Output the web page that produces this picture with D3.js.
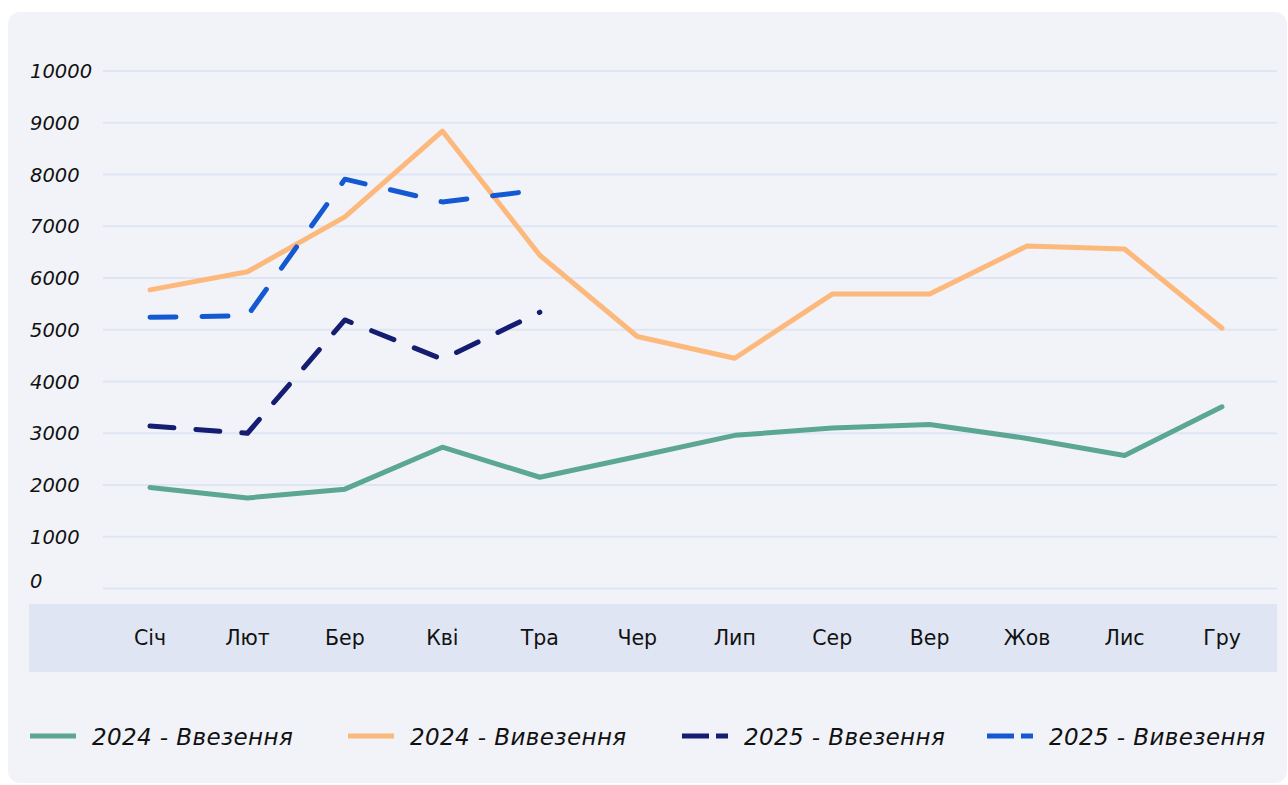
<!DOCTYPE html>
<html>
<head>
<meta charset="utf-8">
<script src="https://cdn.jsdelivr.net/npm/d3@7"></script>
<style>
    body { margin: 0; background: #ffffff; }
    svg { display: block; }
</style>
</head>
<body>
<svg width="1288" height="785"></svg>
<script>
var months = ["Січ", "Лют", "Бер", "Кві", "Тра", "Чер", "Лип", "Сер", "Вер", "Жов", "Лис", "Гру"];
var yTicks = [0, 1000, 2000, 3000, 4000, 5000, 6000, 7000, 8000, 9000, 10000];

var import2024 = [1950, 1750, 1920, 2730, 2150, 2550, 2960, 3100, 3170, 2900, 2570, 3510];
var export2024 = [5770, 6120, 7180, 8840, 6440, 4870, 4450, 5690, 5690, 6620, 6560, 5030];
var import2025 = [3140, 3000, 5190, 4430, 5340];
var export2025 = [5240, 5270, 7910, 7470, 7700];

var seriesNames = ["2024 - Ввезення", "2024 - Вивезення", "2025 - Ввезення", "2025 - Вивезення"];
var seriesColors = ["#5ba792", "#fdb87c", "#141d72", "#1459d2"];

var width = 1288, height = 785;
var fontFamily = "'DejaVu Sans', 'Noto Sans', sans-serif";

var svg = d3.select('svg');

// card background
svg.append('rect')
    .attr('x', 8)
    .attr('y', 12)
    .attr('width', 1279)
    .attr('height', 771)
    .attr('rx', 12)
    .attr('ry', 12)
    .attr('fill', '#f1f3f9');

var x = d3.scalePoint()
    .domain(months)
    .range([150, 1222]);

var y = d3.scaleLinear()
    .domain([0, 10000])
    .range([588.5, 71]);

// grid lines
svg.append('g')
    .attr('class', 'grid')
    .selectAll('line')
    .data(yTicks)
    .enter()
    .append('line')
        .attr('x1', 103)
        .attr('x2', 1277)
        .attr('y1', function(d){ return y(d) })
        .attr('y2', function(d){ return y(d) })
        .attr('stroke', '#dfe6f3')
        .attr('stroke-width', 2);

// y labels
svg.append('g')
    .attr('class', 'yLabels')
    .selectAll('text')
    .data(yTicks)
    .enter()
    .append('text')
        .attr('x', 30)
        .attr('y', function(d){ return y(d) + (d === 0 ? -1 : 7) })
        .attr('font-family', fontFamily)
        .attr('font-style', 'italic')
        .attr('font-size', 19.5)
        .attr('fill', '#111111')
        .text(function(d){ return d });

// x band
svg.append('rect')
    .attr('x', 29)
    .attr('y', 604)
    .attr('width', 1248)
    .attr('height', 68)
    .attr('fill', '#dfe5f2');

svg.append('g')
    .attr('class', 'xLabels')
    .selectAll('text')
    .data(months)
    .enter()
    .append('text')
        .attr('x', function(d){ return x(d) })
        .attr('y', 645)
        .attr('text-anchor', 'middle')
        .attr('font-family', fontFamily)
        .attr('font-size', 20.5)
        .attr('fill', '#111111')
        .text(function(d){ return d });

// lines
var seriesData = [import2024, export2024, import2025, export2025];
var dashes = [null, null, "24,22", "26,26"];

var line = d3.line()
    .x(function(d, i){ return x(months[i]) })
    .y(function(d){ return y(d) });

svg.append('g')
    .attr('class', 'series')
    .selectAll('path')
    .data(seriesData)
    .enter()
    .append('path')
        .attr('d', line)
        .attr('fill', 'none')
        .attr('stroke', function(d, i){ return seriesColors[i] })
        .attr('stroke-width', 5)
        .attr('stroke-linecap', 'round')
        .attr('stroke-linejoin', 'round')
        .attr('stroke-dasharray', function(d, i){ return dashes[i] });

// legend
var legendX = [30, 348, 682, 987];

var legend = svg.append('g')
    .attr('class', 'legend')
    .attr('transform', 'translate(0,736)')
    .selectAll('g')
    .data(seriesNames)
    .enter()
    .append('g')
        .attr('transform', function(d, i){ return 'translate(' + legendX[i] + ',0)' });

legend.append('line')
    .attr('x1', 0)
    .attr('x2', 46)
    .attr('y1', 0)
    .attr('y2', 0)
    .attr('stroke', function(d, i){ return seriesColors[i] })
    .attr('stroke-width', 5)
    .attr('stroke-dasharray', function(d, i){ return i > 1 ? "27,7" : null });

legend.append('text')
    .attr('x', 62)
    .attr('y', 9)
    .attr('font-family', fontFamily)
    .attr('font-style', 'italic')
    .attr('font-size', 23)
    .attr('letter-spacing', 0.4)
    .attr('fill', '#111111')
    .text(function(d){ return d });
</script>
</body>
</html>
